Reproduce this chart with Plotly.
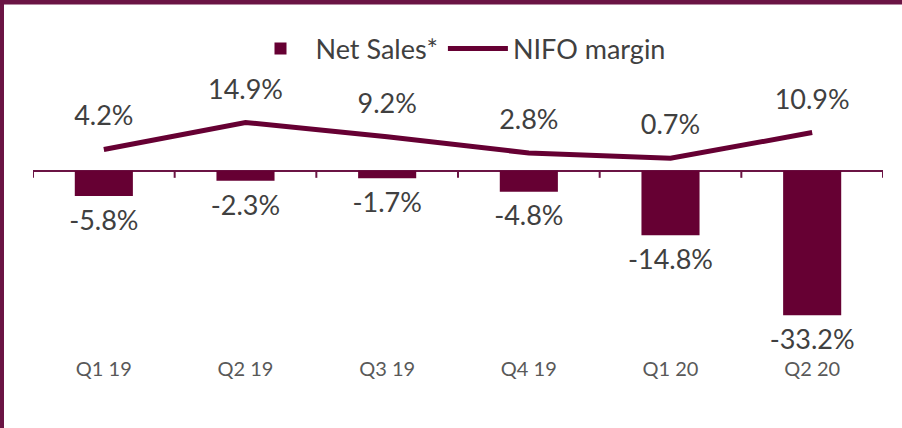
import plotly.graph_objects as go

quarters = ["Q1 19", "Q2 19", "Q3 19", "Q4 19", "Q1 20", "Q2 20"]
net_sales = [-5.8, -2.3, -1.7, -4.8, -14.8, -33.2]
nifo_margin = [4.2, 14.9, 9.2, 2.8, 0.7, 10.9]

maroon = "#660033"
frame = "#6b1444"
label_font = dict(family="Lato", size=27, color="#404040")

fig = go.Figure()
fig.add_trace(go.Bar(
    x=quarters, y=net_sales, name="Net Sales*",
    marker=dict(color=maroon, line=dict(width=0)),
    hoverinfo="skip",
))
# bar value labels, hung a bit below each bar end
fig.add_trace(go.Scatter(
    x=quarters, y=net_sales, mode="markers+text", showlegend=False,
    marker=dict(size=20, color="rgba(0,0,0,0)"),
    text=[f"{v:.1f}%" for v in net_sales], textposition="bottom center",
    textfont=label_font, cliponaxis=False, hoverinfo="skip",
))
fig.add_trace(go.Scatter(
    x=quarters, y=nifo_margin, name="NIFO margin", yaxis="y2",
    mode="lines+markers+text",
    line=dict(color=maroon, width=5),
    marker=dict(size=26, color="rgba(0,0,0,0)"),
    text=[f"{v:.1f}%" for v in nifo_margin], textposition="top center",
    textfont=label_font, cliponaxis=False,
))

# category boundary ticks hanging from the zero line
for k in range(len(quarters) + 1):
    fig.add_shape(type="line", xref="x", yref="y",
                  x0=k - 0.5, x1=k - 0.5, y0=0, y1=-1.6,
                  line=dict(color=frame, width=2))

fig.update_layout(
    width=902, height=428,
    margin=dict(l=33, r=19, t=90, b=78),
    paper_bgcolor="white", plot_bgcolor="white",
    bargap=0.59,
    showlegend=True,
    legend=dict(orientation="h", x=0.5, xanchor="center", y=1 + 41 / 260, yanchor="middle",
                font=label_font, bgcolor="rgba(0,0,0,0)", itemwidth=60,
                traceorder="normal"),
    xaxis=dict(type="category", range=[-0.5, 5.5], showline=False, ticks="",
               showgrid=False, ticklabelstandoff=5,
               tickfont=dict(family="Lato", size=20, color="#595959")),
    yaxis=dict(range=[-41.2, 18.6], visible=True, showticklabels=False, showgrid=False,
               zeroline=True, zerolinecolor=frame, zerolinewidth=2, showline=False),
    yaxis2=dict(range=[-75.4, 27.8], overlaying="y", visible=False),
    shapes=list(fig.layout.shapes) + [
        dict(type="line", xref="paper", yref="paper", x0=-33/850, x1=1 + 19/850,
             y0=1 + 88/260, y1=1 + 88/260, line=dict(color=frame, width=5)),
        dict(type="line", xref="paper", yref="paper", x0=-31/850, x1=-31/850,
             y0=-78/260, y1=1 + 90/260, line=dict(color=frame, width=4)),
    ],
)

fig.write_html("out.html", config={"displayModeBar": False},
               post_script="document.body.style.margin='0';")
